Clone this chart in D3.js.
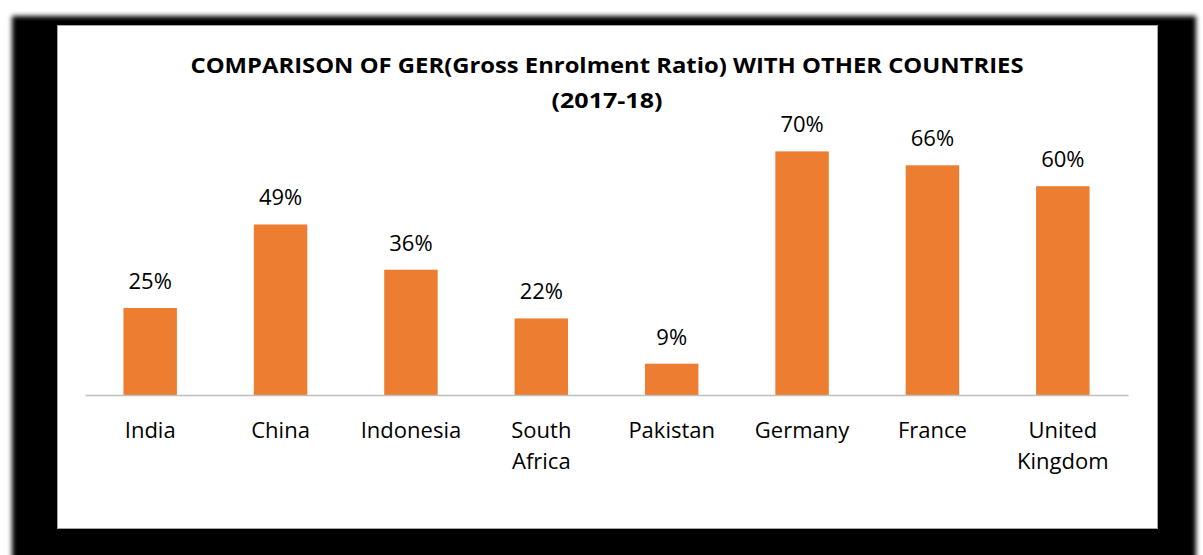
<!DOCTYPE html>
<html>
<head>
<meta charset="utf-8">
<script src="https://cdn.jsdelivr.net/npm/d3@7/dist/d3.min.js"></script>
<style>
  html, body { margin: 0; padding: 0; background: #fff; }
  svg { display: block; }
</style>
</head>
<body>
<svg id="chart" width="1203" height="555"></svg>
<script>
// Gross Enrolment Ratio by country, 2017-18 (percent)
const countries = ["India", "China", "Indonesia", "South Africa", "Pakistan", "Germany", "France", "United Kingdom"];
const gerValues = [25, 49, 36, 22, 9, 70, 66, 60];
const titleLines = ["COMPARISON OF GER(Gross Enrolment Ratio) WITH OTHER COUNTRIES", "(2017-18)"];

const W = 1203, H = 555;
const svg = d3.select("#chart");

// soft black frame behind the chart panel
const defs = svg.append("defs");
defs.append("filter").attr("id", "soft")
  .attr("x", "-5%").attr("y", "-5%").attr("width", "110%").attr("height", "110%")
  .append("feGaussianBlur").attr("stdDeviation", 2.6);

svg.append("rect")
  .attr("x", 12).attr("y", 16).attr("width", 1184).attr("height", 620)
  .attr("fill", "#000").attr("filter", "url(#soft)");

// white chart panel
svg.append("rect")
  .attr("x", 57.5).attr("y", 25.5).attr("width", 1100).attr("height", 503)
  .attr("fill", "#fff").attr("stroke", "#a6a6a6").attr("stroke-width", 1);

const baseY = 395;
const x = d3.scaleBand()
  .domain(countries)
  .range([85, 1128])
  .paddingInner(0.59)
  .paddingOuter(0.295);

const y = d3.scaleLinear()
  .domain([0, 80])
  .range([baseY, baseY - 80 * 3.48]);

// bars
svg.append("g").selectAll("rect")
  .data(countries)
  .join("rect")
  .attr("x", d => x(d))
  .attr("width", x.bandwidth())
  .attr("y", (d, i) => y(gerValues[i]))
  .attr("height", (d, i) => y(0) - y(gerValues[i]))
  .attr("fill", "#ed7d31");

// category axis
const axis = svg.append("g")
  .attr("transform", `translate(0,${baseY})`)
  .call(d3.axisBottom(x).tickSize(0).tickPadding(0));
axis.select(".domain").attr("stroke", "#bfbfbf").attr("stroke-width", 1.3);
axis.selectAll(".tick text").remove();

const labelFont = "'Open Sans', 'Noto Sans', sans-serif";
axis.selectAll(".tick").each(function(d) {
  const words = d.split(" ");
  const lines = words.length > 1 && d.length > 10 ? words : [d];
  const t = d3.select(this).append("text")
    .attr("text-anchor", "middle")
    .attr("fill", "#000")
    .style("font-family", labelFont)
    .style("font-size", "22px");
  lines.forEach((ln, k) => {
    t.append("tspan").attr("x", 0).attr("y", 43 + k * 31).text(ln);
  });
});

// value labels
svg.append("g").selectAll("text")
  .data(countries)
  .join("text")
  .attr("x", d => x(d) + x.bandwidth() / 2)
  .attr("y", (d, i) => y(gerValues[i]) - 19)
  .attr("text-anchor", "middle")
  .style("font-family", labelFont)
  .style("font-size", "22px")
  .attr("fill", "#000")
  .text((d, i) => gerValues[i] + "%");

// title
const title = svg.append("text")
  .attr("text-anchor", "middle")
  .style("font-family", "'Open Sans', 'Noto Sans', sans-serif")
  .style("font-weight", "bold")
  .style("font-size", "22px")
  .attr("fill", "#000");
title.append("tspan").attr("x", 607).attr("y", 73)
  .attr("textLength", 833).attr("lengthAdjust", "spacingAndGlyphs").text(titleLines[0]);
title.append("tspan").attr("x", 607).attr("y", 108)
  .attr("textLength", 111).attr("lengthAdjust", "spacingAndGlyphs").text(titleLines[1]);
</script>
</body>
</html>
